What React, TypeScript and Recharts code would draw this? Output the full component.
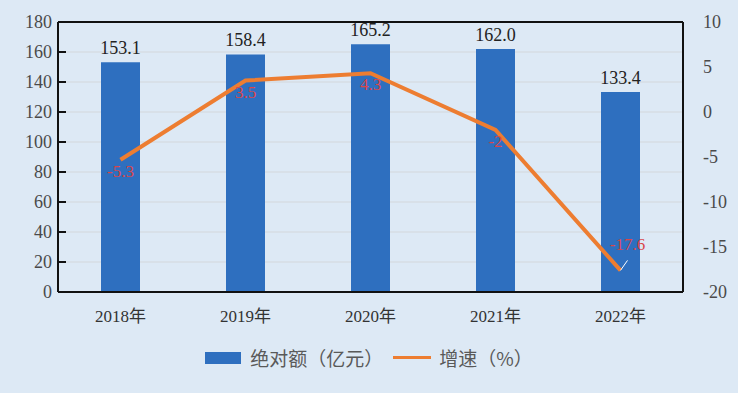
import React from "react";
import { Bar, CartesianGrid, ComposedChart, LabelList, Line, ReferenceLine, XAxis, YAxis } from "recharts";

const years = ["2018年", "2019年", "2020年", "2021年", "2022年"];
const amount = [153.1, 158.4, 165.2, 162.0, 133.4];
const growth = [-5.3, 3.5, 4.3, -2, -17.6];
const leftTicks = [0, 20, 40, 60, 80, 100, 120, 140, 160, 180];
const rightTicks = [-20, -15, -10, -5, 0, 5, 10];

const data = years.map((year, i) => ({ year, amount: amount[i], growth: growth[i] }));

const serif = "'Times New Roman', 'Liberation Serif', 'Noto Sans CJK SC', serif";
const sans = "'Noto Sans CJK SC', 'Noto Sans', sans-serif";

function GrowthLabel(props: any) {
  const { x, y, value, index } = props;
  const last = index === growth.length - 1;
  const text = value === -2 ? "-2" : Number(value).toFixed(1);
  if (last) {
    return (
      <g>
        <line x1={x} y1={y} x2={x + 7} y2={y - 10} stroke="#ffffff" strokeWidth={1} />
        <text x={x + 7} y={y - 20} textAnchor="middle" fill="#d9464b" style={{ fontFamily: serif, fontSize: 17 }}>
          {text}
        </text>
      </g>
    );
  }
  return (
    <text x={x} y={y + 17} textAnchor="middle" fill="#d9464b" style={{ fontFamily: serif, fontSize: 17 }}>
      {text}
    </text>
  );
}

function AmountLabel(props: any) {
  const { x, y, width, value } = props;
  return (
    <text x={x + width / 2} y={y - 8} textAnchor="middle" fill="#222" style={{ fontFamily: serif, fontSize: 18 }}>
      {Number(value).toFixed(1)}
    </text>
  );
}

function LeftTick(props: any) {
  const { x, y, payload } = props;
  return (
    <text x={x - 12} y={y + 6} textAnchor="end" fill="#4a4a4a" style={{ fontFamily: serif, fontSize: 18 }}>
      {payload.value}
    </text>
  );
}

function RightTick(props: any) {
  const { x, y, payload } = props;
  return (
    <text x={x + 12} y={y + 6} textAnchor="start" fill="#4a4a4a" style={{ fontFamily: serif, fontSize: 18 }}>
      {payload.value}
    </text>
  );
}

function YearTick(props: any) {
  const { x, y, payload } = props;
  return (
    <text x={x} y={y + 22} textAnchor="middle" fill="#333" style={{ fontFamily: serif, fontSize: 17 }}>
      {payload.value}
    </text>
  );
}

export default function App() {
  return (
    <div style={{ position: "absolute", left: 0, top: 0, width: 738, height: 393, background: "#dde9f5" }}>
      <ComposedChart width={738} height={393} data={data} margin={{ top: 22, right: 0, bottom: 61, left: 0 }}>
        <CartesianGrid horizontal vertical={false} stroke="#d3d7db" yAxisId="left" />
        <XAxis
          dataKey="year"
          height={40}
          tickLine={false}
          axisLine={{ stroke: "#111", strokeWidth: 2 }}
          tick={YearTick}
        />
        <YAxis
          yAxisId="left"
          width={58}
          domain={[0, 180]}
          ticks={leftTicks}
          interval={0}
          axisLine={{ stroke: "#111", strokeWidth: 2 }}
          tickLine={{ stroke: "#111", strokeWidth: 2 }}
          tickSize={-8}
          tick={LeftTick}
        />
        <YAxis
          yAxisId="right"
          orientation="right"
          width={55}
          domain={[-20, 10]}
          ticks={rightTicks}
          interval={0}
          axisLine={{ stroke: "#111", strokeWidth: 2 }}
          tickLine={false}
          tick={RightTick}
        />
        <ReferenceLine yAxisId="left" y={180} stroke="#111" strokeWidth={2} />
        <Bar yAxisId="left" dataKey="amount" fill="#2e6fbf" barSize={39} isAnimationActive={false}>
          <LabelList dataKey="amount" content={AmountLabel} />
        </Bar>
        <Line
          yAxisId="right"
          dataKey="growth"
          stroke="#ed7d31"
          strokeWidth={4}
          dot={false}
          isAnimationActive={false}
        >
          <LabelList dataKey="growth" content={GrowthLabel} />
        </Line>
      </ComposedChart>
      <div
        style={{
          position: "absolute",
          left: 0,
          top: 344,
          width: 738,
          display: "flex",
          justifyContent: "center",
          alignItems: "center",
          fontFamily: sans,
          fontSize: 19,
          color: "#595959",
        }}
      >
        <span style={{ display: "inline-block", width: 36, height: 12, background: "#2e6fbf", marginRight: 9 }} />
        <span style={{ marginRight: 10 }}>绝对额（亿元）</span>
        <span style={{ display: "inline-block", width: 38, height: 3, background: "#ed7d31", marginRight: 8 }} />
        <span>增速（%）</span>
      </div>
    </div>
  );
}
